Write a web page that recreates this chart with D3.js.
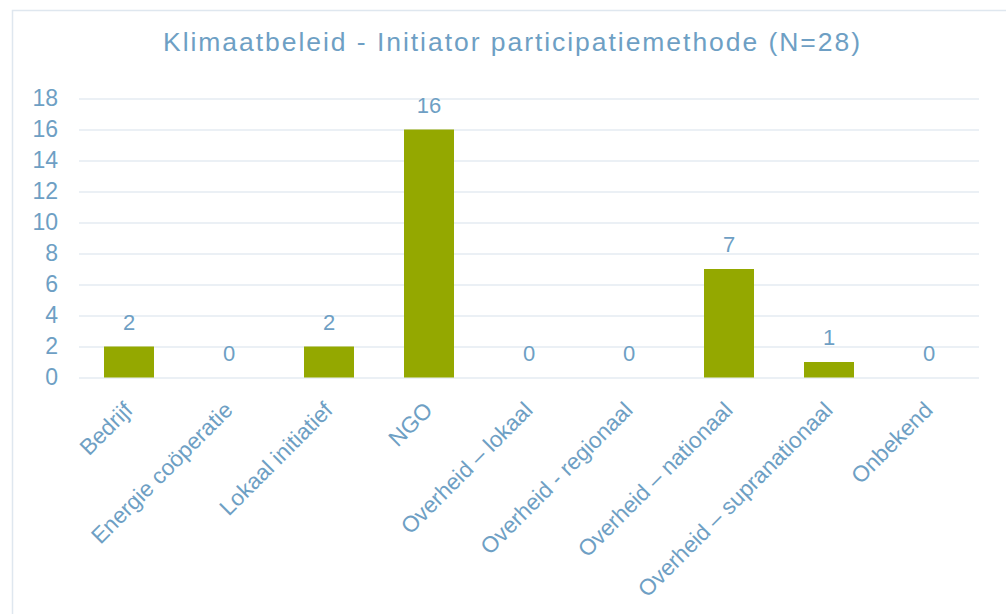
<!DOCTYPE html>
<html>
<head>
<meta charset="utf-8">
<script src="https://cdn.jsdelivr.net/npm/d3@7"></script>
<style>
  html, body { margin: 0; padding: 0; background: #ffffff; }
  svg { display: block; }
</style>
</head>
<body>
<svg id="chart" width="1006" height="614"></svg>
<script>
const categories = ["Bedrijf", "Energie coöperatie", "Lokaal initiatief", "NGO", "Overheid – lokaal", "Overheid - regionaal", "Overheid – nationaal", "Overheid – supranationaal", "Onbekend"];
const values = [2, 0, 2, 16, 0, 0, 7, 1, 0];
const yTicks = [0, 2, 4, 6, 8, 10, 12, 14, 16, 18];
const title = "Klimaatbeleid - Initiator participatiemethode (N=28)";

const textColor = "#6e9fc4";
const barColor = "#94a800";
const gridColor = "#e4ebf2";
const font = "'Liberation Sans', Arial, sans-serif";

const svg = d3.select("#chart");

// outer frame
svg.append("path")
  .attr("d", "M12.5,614 L12.5,10.5 L1006,10.5")
  .attr("fill", "none").attr("stroke", "#dfe7ef").attr("stroke-width", 1.5);

const x = d3.scaleBand().domain(categories).range([79, 979]).paddingInner(0.5).paddingOuter(0.25);
const y = d3.scaleLinear().domain([0, 18]).range([377.5, 98.5]);

// title
svg.append("text")
  .attr("x", 511.5).attr("y", 51)
  .attr("text-anchor", "middle")
  .attr("font-family", font).attr("font-size", 26.5)
  .attr("fill", textColor)
  .attr("textLength", 697).attr("lengthAdjust", "spacing")
  .text(title);

// gridlines
const yAxis = d3.axisLeft(y).tickValues(yTicks).tickSize(-900).tickPadding(21);
const gy = svg.append("g").attr("transform", "translate(79,0)").call(yAxis);
gy.select(".domain").remove();
gy.selectAll(".tick line").attr("stroke", gridColor).attr("stroke-width", 1.5);
gy.selectAll(".tick text").attr("fill", textColor).attr("font-family", font).attr("font-size", 23);

// bars
svg.append("g").selectAll("rect").data(values).join("rect")
  .attr("x", (d, i) => x(categories[i]))
  .attr("width", x.bandwidth())
  .attr("y", d => y(d))
  .attr("height", d => y(0) - y(d))
  .attr("fill", barColor);

// value labels
svg.append("g").selectAll("text").data(values).join("text")
  .attr("x", (d, i) => x(categories[i]) + x.bandwidth() / 2)
  .attr("y", d => y(d) - 17)
  .attr("text-anchor", "middle")
  .attr("font-family", font).attr("font-size", 22)
  .attr("fill", textColor)
  .text(d => d);

// category labels
const xAxis = d3.axisBottom(x).tickSize(0).tickPadding(0);
const gx = svg.append("g").attr("transform", "translate(0,377.5)").call(xAxis);
gx.select(".domain").remove();
gx.selectAll(".tick text")
  .attr("fill", textColor).attr("font-family", font).attr("font-size", 22.5)
  .attr("text-anchor", "end")
  .attr("dy", null).attr("y", 0)
  .attr("transform", "translate(5,34) rotate(-45)");
</script>
</body>
</html>
